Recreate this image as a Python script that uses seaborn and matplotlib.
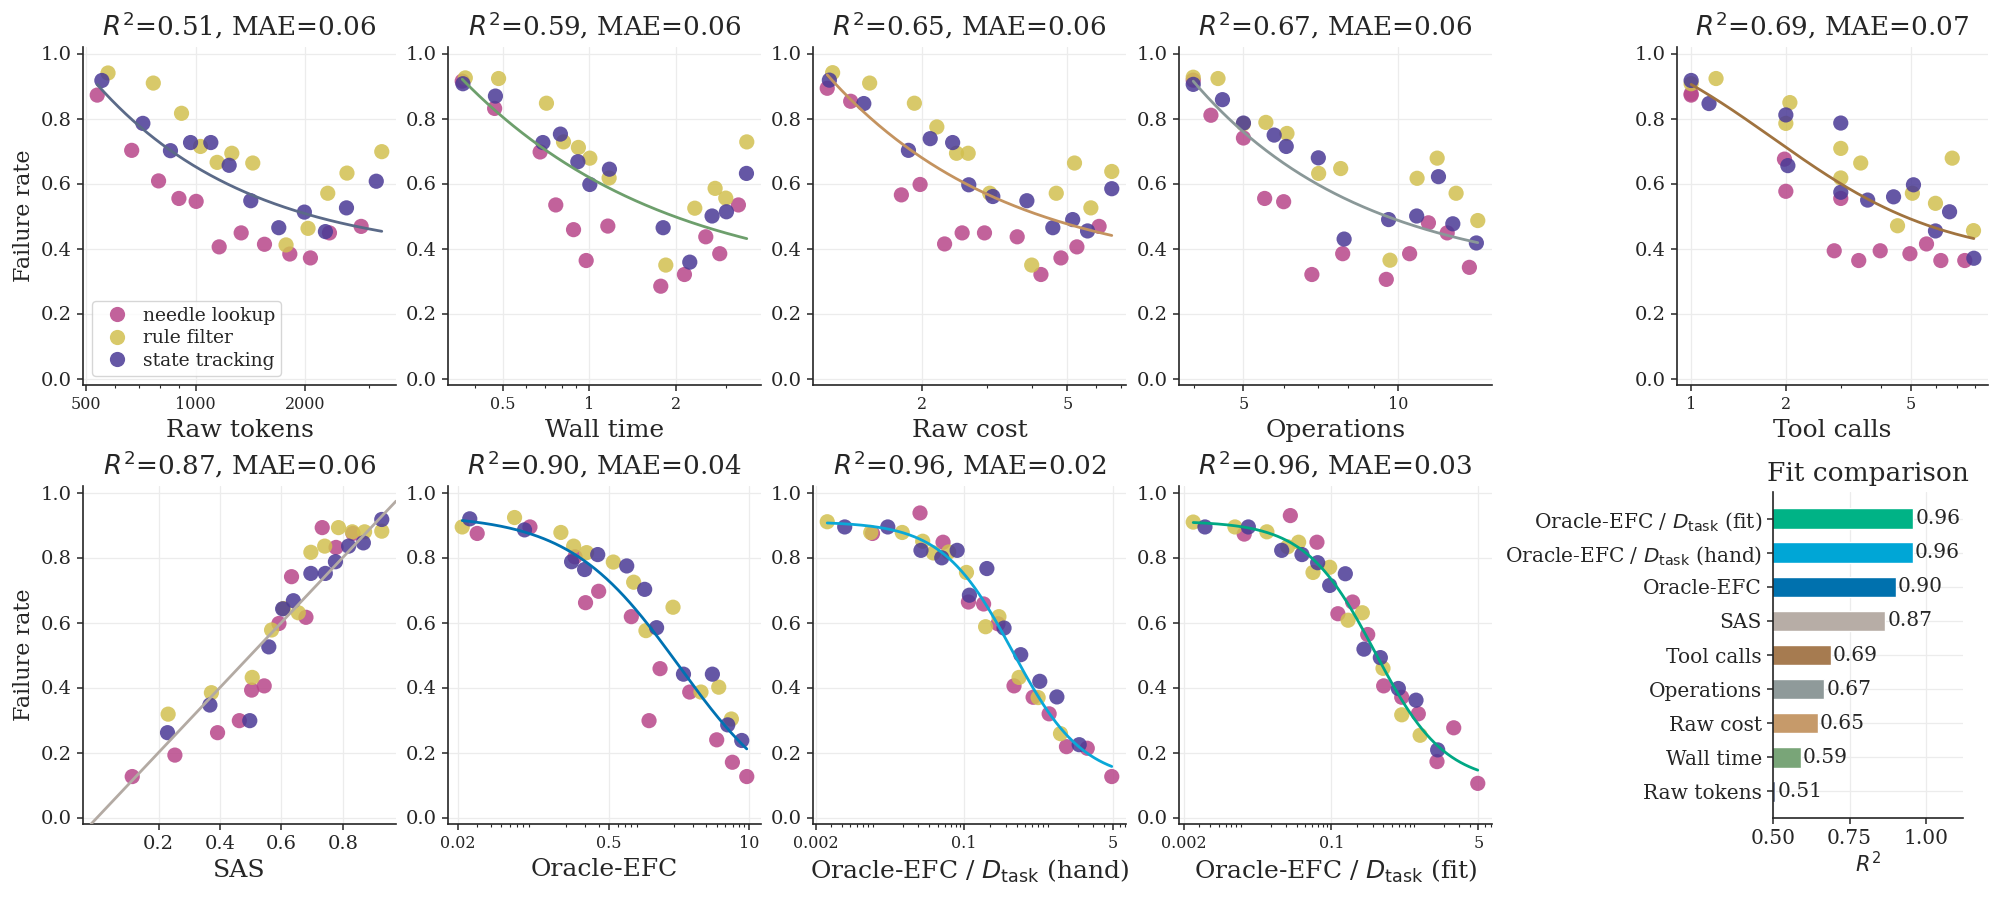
import numpy as np
import pandas as pd
import seaborn as sns
import matplotlib.pyplot as plt
from matplotlib.ticker import NullFormatter

groups = ['needle lookup', 'rule filter', 'state tracking']
group_colors = ['#b8478a', '#d2c050', '#4a3a96']

# (x values, failure rate) per task family
raw_tokens = {
    'needle lookup': ([536, 667, 791, 900, 1004, 1162, 1336, 1549, 1819, 2073, 2339, 2860],
                      [0.872, 0.702, 0.608, 0.554, 0.545, 0.405, 0.448, 0.413, 0.383, 0.371, 0.448, 0.468]),
    'rule filter': ([574, 765, 915, 1032, 1147, 1259, 1438, 1776, 2042, 2314, 2614, 3260],
                    [0.940, 0.909, 0.816, 0.714, 0.665, 0.693, 0.663, 0.411, 0.462, 0.570, 0.632, 0.698]),
    'state tracking': ([552, 716, 853, 969, 1102, 1238, 1420, 1696, 1995, 2280, 2606, 3148],
                       [0.917, 0.785, 0.701, 0.726, 0.726, 0.656, 0.547, 0.464, 0.512, 0.452, 0.525, 0.607]),
}
wall_time = {
    'needle lookup': ([0.360, 0.467, 0.673, 0.763, 0.880, 0.974, 1.159, 1.773, 2.144, 2.545, 2.847, 3.307],
                      [0.915, 0.831, 0.697, 0.534, 0.458, 0.363, 0.469, 0.284, 0.320, 0.436, 0.384, 0.534]),
    'rule filter': ([0.369, 0.482, 0.708, 0.812, 0.915, 1.003, 1.171, 1.846, 2.330, 2.743, 2.988, 3.537],
                    [0.925, 0.923, 0.847, 0.728, 0.711, 0.678, 0.617, 0.349, 0.524, 0.585, 0.555, 0.728]),
    'state tracking': ([0.362, 0.470, 0.688, 0.792, 0.911, 1.003, 1.174, 1.807, 2.238, 2.677, 3.004, 3.528],
                       [0.907, 0.869, 0.726, 0.752, 0.667, 0.597, 0.644, 0.464, 0.358, 0.500, 0.513, 0.631]),
}
raw_cost = {
    'needle lookup': ([1.095, 1.27, 1.75, 1.97, 2.30, 2.57, 2.96, 3.64, 4.23, 4.80, 5.31, 6.11],
                      [0.893, 0.853, 0.565, 0.597, 0.414, 0.448, 0.448, 0.436, 0.320, 0.371, 0.405, 0.468]),
    'rule filter': ([1.133, 1.432, 1.90, 2.19, 2.48, 2.67, 3.06, 3.99, 4.66, 5.23, 5.80, 6.62],
                    [0.941, 0.909, 0.847, 0.774, 0.693, 0.693, 0.570, 0.349, 0.570, 0.663, 0.525, 0.637]),
    'state tracking': ([1.11, 1.38, 1.83, 2.10, 2.42, 2.68, 3.12, 3.87, 4.56, 5.17, 5.68, 6.62],
                       [0.918, 0.846, 0.702, 0.738, 0.726, 0.596, 0.560, 0.547, 0.464, 0.489, 0.454, 0.584]),
}
operations = {
    'needle lookup': ([3.99, 4.32, 5.0, 5.50, 5.99, 6.80, 7.81, 9.50, 10.55, 11.48, 12.49, 13.80],
                      [0.918, 0.810, 0.740, 0.554, 0.544, 0.320, 0.384, 0.305, 0.384, 0.479, 0.448, 0.342]),
    'rule filter': ([3.99, 4.46, 5.0, 5.53, 6.08, 7.01, 7.74, 9.66, 10.91, 11.94, 13.0, 14.33],
                    [0.927, 0.923, 0.784, 0.788, 0.754, 0.631, 0.646, 0.364, 0.616, 0.678, 0.570, 0.486]),
    'state tracking': ([3.99, 4.55, 5.0, 5.74, 6.06, 7.0, 7.86, 9.60, 10.89, 12.01, 12.81, 14.24],
                       [0.905, 0.858, 0.786, 0.749, 0.714, 0.679, 0.429, 0.489, 0.500, 0.621, 0.476, 0.417]),
}
tool_calls = {
    'needle lookup': ([1.0, 1.0, 1.98, 2.0, 2.85, 2.99, 3.41, 3.99, 4.96, 5.60, 6.22, 7.41],
                      [0.872, 0.876, 0.675, 0.576, 0.393, 0.554, 0.363, 0.393, 0.384, 0.414, 0.363, 0.363]),
    'rule filter': ([1.0, 1.20, 2.0, 2.06, 2.99, 2.99, 3.46, 4.53, 5.05, 5.98, 6.76, 7.90],
                    [0.907, 0.923, 0.785, 0.849, 0.708, 0.617, 0.663, 0.470, 0.570, 0.539, 0.678, 0.455]),
    'state tracking': ([1.0, 1.14, 2.0, 2.03, 2.99, 2.99, 3.64, 4.40, 5.09, 5.98, 6.63, 7.92],
                       [0.917, 0.846, 0.811, 0.655, 0.786, 0.573, 0.549, 0.559, 0.596, 0.454, 0.513, 0.370]),
}
sas = {
    'needle lookup': ([0.114, 0.253, 0.392, 0.463, 0.503, 0.544, 0.592, 0.633, 0.680, 0.733, 0.778, 0.833],
                      [0.126, 0.192, 0.261, 0.298, 0.392, 0.405, 0.597, 0.741, 0.616, 0.892, 0.831, 0.874]),
    'rule filter': ([0.231, 0.372, 0.505, 0.568, 0.607, 0.655, 0.696, 0.741, 0.786, 0.831, 0.871, 0.927],
                    [0.318, 0.384, 0.431, 0.577, 0.643, 0.630, 0.816, 0.835, 0.892, 0.879, 0.879, 0.881]),
    'state tracking': ([0.229, 0.367, 0.497, 0.559, 0.604, 0.639, 0.696, 0.743, 0.776, 0.819, 0.867, 0.927],
                       [0.261, 0.346, 0.298, 0.525, 0.642, 0.667, 0.751, 0.751, 0.787, 0.835, 0.845, 0.917]),
}
oracle_efc = {
    'needle lookup': ([0.030, 0.0925, 0.242, 0.303, 0.401, 0.805, 1.175, 1.486, 2.80, 4.98, 6.96, 9.46],
                      [0.874, 0.894, 0.802, 0.661, 0.696, 0.618, 0.298, 0.458, 0.386, 0.239, 0.170, 0.126]),
    'rule filter': ([0.0218, 0.0666, 0.179, 0.235, 0.310, 0.548, 0.846, 1.10, 1.96, 3.56, 5.20, 6.81],
                    [0.894, 0.923, 0.877, 0.835, 0.815, 0.786, 0.724, 0.575, 0.647, 0.386, 0.401, 0.303]),
    'state tracking': ([0.0256, 0.0824, 0.225, 0.297, 0.393, 0.730, 1.07, 1.38, 2.45, 4.54, 6.30, 8.50],
                       [0.919, 0.885, 0.787, 0.763, 0.809, 0.774, 0.702, 0.584, 0.441, 0.441, 0.285, 0.237]),
}
efc_hand = {
    'needle lookup': ([0.00896, 0.0313, 0.0574, 0.112, 0.167, 0.244, 0.372, 0.615, 0.938, 1.48, 2.56, 4.88],
                      [0.874, 0.937, 0.847, 0.663, 0.657, 0.596, 0.405, 0.370, 0.319, 0.218, 0.213, 0.126]),
    'rule filter': ([0.00272, 0.00855, 0.0196, 0.0336, 0.0445, 0.0667, 0.1064, 0.176, 0.250, 0.425, 0.702, 1.265],
                    [0.910, 0.877, 0.877, 0.850, 0.814, 0.817, 0.754, 0.587, 0.618, 0.431, 0.369, 0.258]),
    'state tracking': ([0.00431, 0.0134, 0.0321, 0.0555, 0.0832, 0.115, 0.182, 0.286, 0.444, 0.733, 1.15, 2.07],
                       [0.894, 0.894, 0.822, 0.799, 0.822, 0.684, 0.766, 0.583, 0.501, 0.419, 0.371, 0.224]),
}
efc_fit = {
    'needle lookup': ([0.00986, 0.0336, 0.0682, 0.119, 0.176, 0.263, 0.402, 0.650, 1.01, 1.66, 2.59, 4.91],
                      [0.872, 0.929, 0.847, 0.627, 0.663, 0.563, 0.405, 0.370, 0.319, 0.172, 0.276, 0.105]),
    'rule filter': ([0.00254, 0.0077, 0.0180, 0.0313, 0.0419, 0.0614, 0.0957, 0.156, 0.228, 0.395, 0.650, 1.06],
                    [0.909, 0.894, 0.879, 0.833, 0.847, 0.754, 0.770, 0.607, 0.630, 0.459, 0.316, 0.253]),
    'state tracking': ([0.00347, 0.011, 0.0267, 0.0458, 0.0695, 0.0957, 0.145, 0.238, 0.368, 0.594, 0.95, 1.69],
                       [0.894, 0.894, 0.822, 0.809, 0.784, 0.714, 0.750, 0.518, 0.492, 0.397, 0.361, 0.208]),
}

# fit comparison (top to bottom)
bar_labels = [r'Oracle-EFC / $D_{\rm task}$ (fit)', r'Oracle-EFC / $D_{\rm task}$ (hand)', 'Oracle-EFC',
              'SAS', 'Tool calls', 'Operations', 'Raw cost', 'Wall time', 'Raw tokens']
bar_r2 = [0.957, 0.956, 0.901, 0.867, 0.689, 0.667, 0.646, 0.591, 0.507]
bar_colors = ['#00b386', '#00a6d6', '#0071ae', '#b7ada6', '#a67b50',
              '#8f9a9a', '#c69a6a', '#79a578', '#5b6a88']

titles = [r'$R^2$=0.51, MAE=0.06', r'$R^2$=0.59, MAE=0.06', r'$R^2$=0.65, MAE=0.06',
          r'$R^2$=0.67, MAE=0.06', r'$R^2$=0.69, MAE=0.07', r'$R^2$=0.87, MAE=0.06',
          r'$R^2$=0.90, MAE=0.04', r'$R^2$=0.96, MAE=0.02', r'$R^2$=0.96, MAE=0.03']

sns.set_theme(style='ticks')
plt.rcParams['font.family'] = 'serif'
plt.rcParams['font.serif'] = ['DejaVu Serif']
plt.rcParams['mathtext.fontset'] = 'dejavusans'


def fit_4pl(x, y):
    # y = d + c / (1 + 10**(k*(log10 x - u0))); c, d solved by least squares per (k, u0),
    # floor d kept between 0 and the lowest observed rate
    u = np.log10(np.asarray(x, float))
    y = np.asarray(y, float)
    K, U0 = np.meshgrid(np.linspace(0.2, 3.0, 113),
                        np.arange(u.min() - 1.5, u.max() + 1.5, 0.01))
    k, u0 = K.ravel(), U0.ravel()
    S = 1 / (1 + 10 ** (k[:, None] * (u[None, :] - u0[:, None])))
    sm = S.mean(1, keepdims=True)
    ym = y.mean()
    var = ((S - sm) ** 2).sum(1)
    c = ((S - sm) * (y - ym)).sum(1) / np.maximum(var, 1e-12)
    d = ym - c * sm[:, 0]
    # where the free floor breaks the bound, refit c with d clamped
    dc = np.clip(d, 0, y.min())
    c = np.where(d == dc, c, ((y - dc[:, None]) * S).sum(1) / np.maximum((S ** 2).sum(1), 1e-12))
    sse = ((dc[:, None] + c[:, None] * S - y) ** 2).sum(1)
    sse[(var < 1e-4) | (c < 0)] = np.inf
    j = np.argmin(sse)
    return dc[j], c[j], k[j], u0[j]


def to_frame(d):
    rows = []
    for g in groups:
        xs, ys = d[g]
        rows += [(g, a, b) for a, b in zip(xs, ys)]
    return pd.DataFrame(rows, columns=['group', 'x', 'y'])


panels = [
    (raw_tokens, 'Raw tokens', [500, 1000, 2000], ['500', '1000', '2000'], True, '#5b6a88'),
    (wall_time, 'Wall time', [0.5, 1, 2], ['0.5', '1', '2'], True, '#6d9f6c'),
    (raw_cost, 'Raw cost', [2, 5], ['2', '5'], True, '#c4935f'),
    (operations, 'Operations', [5, 10], ['5', '10'], True, '#8a9898'),
    (tool_calls, 'Tool calls', [1, 2, 5], ['1', '2', '5'], True, '#a0733f'),
    (sas, 'SAS', None, None, False, '#b3aaa3'),
    (oracle_efc, 'Oracle-EFC', [0.02, 0.5, 10], ['0.02', '0.5', '10'], True, '#0072b2'),
    (efc_hand, r'Oracle-EFC / $D_{\rm task}$ (hand)', [0.002, 0.1, 5], ['0.002', '0.1', '5'], True, '#0aa8d8'),
    (efc_fit, r'Oracle-EFC / $D_{\rm task}$ (fit)', [0.002, 0.1, 5], ['0.002', '0.1', '5'], True, '#00a884'),
]

W, H = 2000, 901
col_left = [83, 448, 813, 1179, 1677]
row_top = [47, 486]
ax_w, ax_h = 313, 338

fig = plt.figure(figsize=(20, 9.01), dpi=100)


def px_axes(left, top, w, h):
    return fig.add_axes([left / W, 1 - (top + h) / H, w / W, h / H])


slots = [(col_left[0], row_top[0]), (col_left[1], row_top[0]), (col_left[2], row_top[0]),
         (col_left[3], row_top[0]), (col_left[4], row_top[0]),
         (col_left[0], row_top[1]), (col_left[1], row_top[1]), (col_left[2], row_top[1]),
         (col_left[3], row_top[1])]

for i, (data, xlabel, ticks, ticklabels, logx, lc) in enumerate(panels):
    left, top = slots[i]
    ax = px_axes(left, top, 311 if i == 4 else ax_w, ax_h)
    df = to_frame(data)
    if logx:
        ax.set_xscale('log')
    sns.scatterplot(data=df, x='x', y='y', hue='group', palette=group_colors, hue_order=groups,
                    s=120, alpha=0.85, edgecolor='none', ax=ax, legend=(i == 0), zorder=3)
    if logx:
        d, c, k, u0 = fit_4pl(df['x'], df['y'])
        xs = np.logspace(np.log10(df['x'].min()), np.log10(df['x'].max()), 200)
        ax.plot(xs, d + c / (1 + 10 ** (k * (np.log10(xs) - u0))), color=lc, lw=2, zorder=4)
        ax.set_xticks(ticks)
        ax.set_xticklabels(ticklabels)
        ax.xaxis.set_minor_formatter(NullFormatter())
        ax.tick_params(axis='x', which='major', labelsize=11.5)
    else:
        # calibrated score: identity reference line
        ax.axline((0, 0), slope=1, color=lc, lw=2, zorder=4)
        ax.set_xticks([0.2, 0.4, 0.6, 0.8])
        ax.tick_params(axis='x', which='major', labelsize=14)
    ax.set_ylim(-0.02, 1.02)
    ax.set_yticks([0, 0.2, 0.4, 0.6, 0.8, 1.0])
    ax.tick_params(axis='y', labelsize=14)
    ax.tick_params(which='major', length=4.5, width=1.1)
    ax.tick_params(which='minor', length=2.5, width=0.8)
    ax.grid(True, which='major', color='#ececec', lw=0.9)
    ax.set_axisbelow(True)
    sns.despine(ax=ax)
    for s in ax.spines.values():
        s.set_linewidth(1.2)
    ax.set_title(titles[i], fontsize=18.8, pad=8)
    ax.set_xlabel(xlabel, fontsize=18)
    ax.set_ylabel('Failure rate' if i in (0, 5) else '', fontsize=16)
    if i == 0:
        h, l = ax.get_legend_handles_labels()
        ax.legend(h, l, loc='lower left', fontsize=13.5, handletextpad=0.4,
                  borderpad=0.3, labelspacing=0.25)

# bar chart of R^2
bx = px_axes(1773, 492, 190, 326)
sns.barplot(x=bar_r2, y=bar_labels, hue=bar_labels, palette=bar_colors, legend=False,
            orient='h', width=0.6, saturation=1, ax=bx)
for j, v in enumerate(bar_r2):
    bx.text(v + 0.007, j, f'{v:.2f}', va='center', ha='left', fontsize=14.5)
bx.set_xlim(0.5, 1.12)
bx.set_ylim(8.78, -0.78)
bx.set_xticks([0.5, 0.75, 1.0])
bx.set_xticklabels(['0.50', '0.75', '1.00'])
bx.tick_params(axis='both', labelsize=14.5, length=4.5, width=1.1)
bx.grid(True, color='#ececec', lw=0.9)
bx.set_axisbelow(True)
sns.despine(ax=bx)
for s in bx.spines.values():
    s.set_linewidth(1.2)
bx.set_xlabel(r'$R^2$', fontsize=15, labelpad=2)
bx.set_ylabel('')
bx.set_title('Fit comparison', fontsize=19, pad=8)

fig.savefig('out.png', dpi=100)
